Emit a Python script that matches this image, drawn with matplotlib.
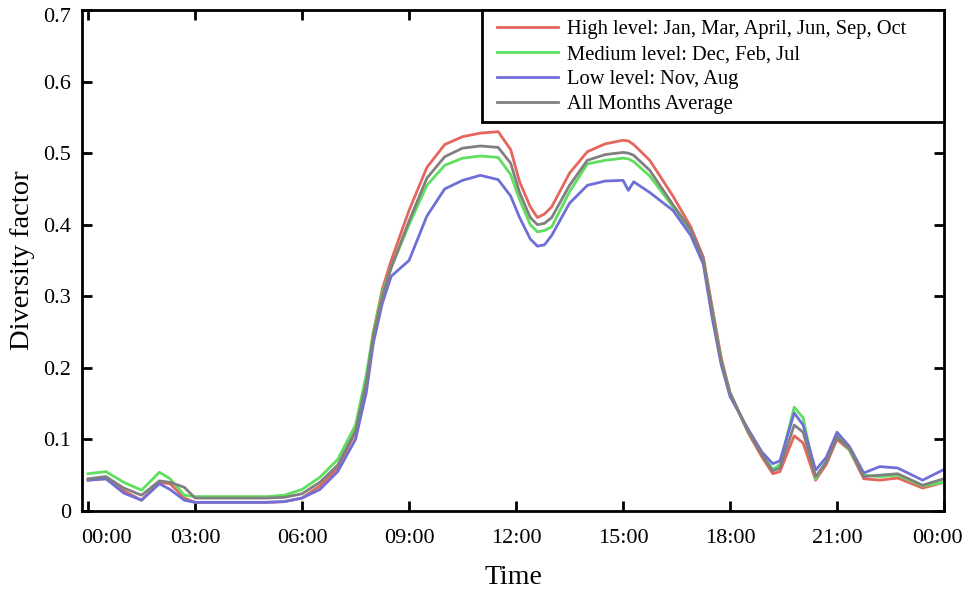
import numpy as np
import matplotlib
matplotlib.use("Agg")
from matplotlib import pyplot as plt
from matplotlib.patches import Rectangle
from matplotlib.transforms import ScaledTranslation

plt.rcParams["font.family"] = ["Liberation Serif", "DejaVu Serif"]

# hours since midnight
hours = [0, 0.5, 1.0, 1.5, 2.0, 2.3, 2.7, 3.0, 4.0, 5.0, 5.5, 6.0, 6.5, 7.0, 7.5,
         7.8, 8.0, 8.25, 8.5, 9.0, 9.5, 10.0, 10.5, 11.0, 11.5, 11.85, 12.1, 12.4,
         12.6, 12.8, 13.0, 13.5, 14.0, 14.5, 15.0, 15.15, 15.3, 15.75, 16.4, 16.9,
         17.25, 17.5, 17.75, 18.0, 18.5, 18.9, 19.2, 19.4, 19.8, 20.05, 20.4, 20.7,
         21.0, 21.35, 21.75, 22.2, 22.7, 23.4, 24.0]

high = [0.043, 0.045, 0.028, 0.015, 0.040, 0.038, 0.018, 0.012, 0.012, 0.012, 0.013,
        0.018, 0.035, 0.060, 0.110, 0.180, 0.250, 0.310, 0.350, 0.420, 0.480, 0.512,
        0.523, 0.528, 0.530, 0.505, 0.460, 0.425, 0.410, 0.415, 0.425, 0.472, 0.502,
        0.513, 0.518, 0.517, 0.512, 0.490, 0.440, 0.397, 0.355, 0.285, 0.215, 0.165,
        0.110, 0.075, 0.052, 0.055, 0.105, 0.095, 0.043, 0.065, 0.100, 0.085, 0.045,
        0.043, 0.046, 0.032, 0.040]

medium = [0.052, 0.055, 0.040, 0.029, 0.054, 0.045, 0.022, 0.020, 0.020, 0.020, 0.022,
          0.030, 0.047, 0.072, 0.120, 0.190, 0.250, 0.305, 0.340, 0.400, 0.455, 0.483,
          0.493, 0.496, 0.494, 0.470, 0.435, 0.400, 0.390, 0.392, 0.397, 0.446, 0.485,
          0.490, 0.493, 0.492, 0.488, 0.468, 0.425, 0.390, 0.350, 0.280, 0.210, 0.165,
          0.112, 0.080, 0.058, 0.065, 0.145, 0.130, 0.045, 0.070, 0.105, 0.085, 0.050,
          0.048, 0.050, 0.035, 0.040]

low = [0.043, 0.045, 0.025, 0.015, 0.038, 0.030, 0.015, 0.012, 0.012, 0.012, 0.013,
       0.018, 0.030, 0.055, 0.100, 0.165, 0.235, 0.290, 0.328, 0.350, 0.412, 0.450,
       0.462, 0.469, 0.463, 0.440, 0.410, 0.380, 0.370, 0.372, 0.385, 0.430, 0.455,
       0.461, 0.462, 0.448, 0.460, 0.445, 0.420, 0.385, 0.345, 0.270, 0.205, 0.160,
       0.115, 0.082, 0.066, 0.070, 0.137, 0.120, 0.057, 0.075, 0.110, 0.090, 0.053,
       0.062, 0.060, 0.043, 0.058]

average = [0.045, 0.048, 0.032, 0.022, 0.042, 0.040, 0.033, 0.018, 0.018, 0.018, 0.019,
           0.024, 0.040, 0.064, 0.112, 0.180, 0.245, 0.300, 0.340, 0.405, 0.465, 0.495,
           0.507, 0.510, 0.508, 0.486, 0.445, 0.410, 0.400, 0.402, 0.410, 0.455, 0.490,
           0.498, 0.501, 0.500, 0.497, 0.476, 0.428, 0.393, 0.352, 0.280, 0.210, 0.165,
           0.112, 0.078, 0.056, 0.060, 0.120, 0.110, 0.048, 0.068, 0.103, 0.087, 0.048,
           0.050, 0.052, 0.036, 0.045]

labels = ["High level: Jan, Mar, April, Jun, Sep, Oct",
          "Medium level: Dec, Feb, Jul",
          "Low level: Nov, Aug",
          "All Months Average"]
colors = ["#e4665c", "#5ee05e", "#6f6fd8", "#808080"]

tick_hours = [0, 3, 6, 9, 12, 15, 18, 21, 24]
tick_labels = ["00:00", "03:00", "06:00", "09:00", "12:00", "15:00", "18:00", "21:00", "00:00"]
y_ticks = [0, 0.1, 0.2, 0.3, 0.4, 0.5, 0.6, 0.7]
y_labels = ["0", "0.1", "0.2", "0.3", "0.4", "0.5", "0.6", "0.7"]

fig = plt.figure(figsize=(9.68, 5.9), dpi=100)
ax = fig.add_axes([0.0847, 0.134, 0.8905, 0.849])

for series, label, color in zip([high, medium, low, average], labels, colors):
    ax.plot(hours, series, color=color, lw=2.0, label=label)

ax.set_xlim(-0.17, 24.0)
ax.set_ylim(0, 0.7)
ax.set_xticks(tick_hours)
ax.set_xticklabels(tick_labels)
ax.set_yticks(y_ticks)
ax.set_yticklabels(y_labels)

ax.tick_params(direction="in", length=7, width=2, labelsize=16,
               top=True, right=True)
ax.tick_params(axis="x", pad=13)
ax.tick_params(axis="y", pad=8)
for s in ax.spines.values():
    s.set_linewidth(2)

# edge labels sit inward of their ticks
xl = ax.get_xticklabels()
xl[0].set_transform(xl[0].get_transform() + ScaledTranslation(0.18, 0, fig.dpi_scale_trans))
xl[-1].set_transform(xl[-1].get_transform() + ScaledTranslation(-0.07, 0, fig.dpi_scale_trans))
yl = ax.get_yticklabels()
yl[-1].set_transform(yl[-1].get_transform() + ScaledTranslation(0, -0.05, fig.dpi_scale_trans))

ax.set_xlabel("Time", fontsize=20, labelpad=12)
ax.set_ylabel("Diversity factor", fontsize=20.5, labelpad=6)

# legend box drawn separately so it can be wider than its contents
leg = ax.legend(loc="upper left", bbox_to_anchor=(0.481, 0.98), borderaxespad=0,
                fontsize=14.8, frameon=False, handlelength=3.0, handletextpad=0.44,
                labelspacing=0.27, borderpad=0)
ax.add_patch(Rectangle((0.464, 0.777), 0.536, 0.223, transform=ax.transAxes,
                       facecolor="white", edgecolor="black", lw=2, zorder=4,
                       clip_on=False))
leg.set_zorder(5)

fig.savefig("out.png", dpi=100)
